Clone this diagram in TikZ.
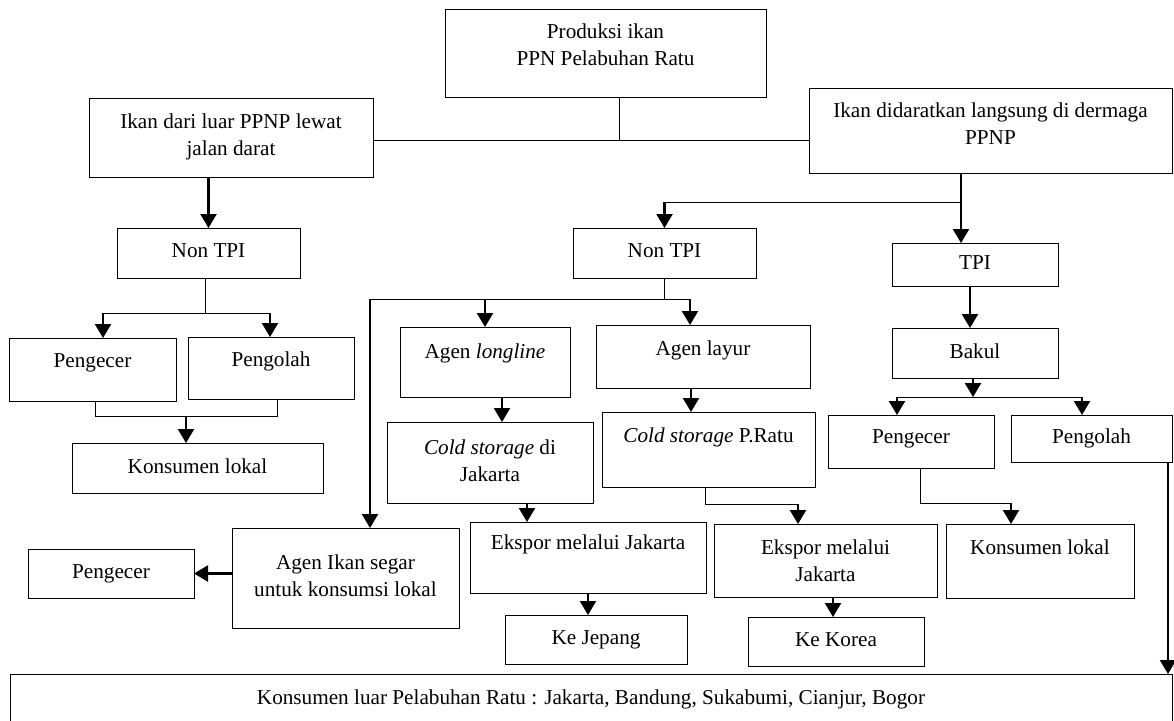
\documentclass[tikz,border=0pt]{standalone}
\usepackage{fontspec}
\setmainfont{Liberation Serif}
\usetikzlibrary{arrows.meta}

\begin{document}
\begin{tikzpicture}[x=0.5pt, y=-0.5pt,
    font=\fontsize{10.6pt}{13.5pt}\selectfont,
    box/.style={draw, line width=0.5pt, inner sep=0pt, outer sep=0pt, align=center},
    single/.style={text height=7.4pt, text depth=#1},
    single/.default=2.3pt,
    arr/.style={-{Triangle[length=7pt,width=8pt]}, line width=1.1pt},
    ln/.style={line width=0.5pt}]
\useasboundingbox (0,0) rectangle (1174,720);

% top row
\node[box, text depth=8.5pt, minimum width=160.5pt, minimum height=44pt] (prod) at (605.5,53) {Produksi ikan\\PPN Pelabuhan Ratu};
\node[box, text depth=3pt, minimum width=142pt, minimum height=39.5pt] (luar) at (231,137.5) {Ikan dari luar PPNP lewat\\jalan darat};
\node[box, text depth=7pt, minimum width=181.5pt, minimum height=42.5pt] (darat) at (990.5,130.5) {Ikan didaratkan langsung di dermaga\\PPNP};

\node[box, single=3.3pt, minimum width=91.5pt, minimum height=25pt] (ntL) at (208.5,253) {Non TPI};
\node[box, single=3.3pt, minimum width=91.5pt, minimum height=25pt] (ntM) at (664.5,253) {Non TPI};
\node[box, single, minimum width=83pt, minimum height=21.5pt] (tpi) at (975,264.5) {TPI};

% left branch
\node[box, single=9.8pt, minimum width=83.5pt, minimum height=31.5pt] (pgL) at (92.5,369.5) {Pengecer};
\node[box, single=9.3pt, minimum width=83pt, minimum height=31pt] (poL) at (271,368) {Pengolah};
\node[box, single, minimum width=125.5pt, minimum height=25pt] (klL) at (197.5,468) {Konsumen lokal};

% middle branch
\node[box, single=11.3pt, minimum width=85pt, minimum height=35pt] (agL) at (485,362) {Agen \textit{longline}};
\node[box, single=8.8pt, minimum width=107pt, minimum height=31.5pt] (agY) at (703,356.5) {Agen layur};
\node[box, text depth=2pt, minimum width=103pt, minimum height=40.5pt] (csJ) at (490,462.5) {\textit{Cold storage} di\\Jakarta};
\node[box, single=14.8pt, minimum width=106.5pt, minimum height=37.5pt] (csP) at (708.5,449.5) {\textit{Cold storage} P.Ratu};
\node[box, text depth=2pt, minimum width=113.5pt, minimum height=50pt] (agS) at (345.5,578) {Agen Ikan segar\\untuk konsumsi lokal};
\node[box, single, minimum width=83pt, minimum height=24.5pt] (pgS) at (111,573.5) {Pengecer};
\node[box, single=15.8pt, minimum width=118pt, minimum height=35.5pt] (exJ) at (588,557.5) {Ekspor melalui Jakarta};
\node[box, minimum width=111.5pt, minimum height=36.5pt] (exP) at (825.5,560.5) {Ekspor melalui\\Jakarta};
\node[box, single, minimum width=91pt, minimum height=24.5pt] (kJ) at (596,639.5) {Ke Jepang};
\node[box, single, minimum width=88pt, minimum height=24.5pt] (kK) at (836,641.5) {Ke Korea};

% right branch
\node[box, single, minimum width=83pt, minimum height=25pt] (bakul) at (975,353) {Bakul};
\node[box, single=5.3pt, minimum width=83pt, minimum height=26.5pt] (pgR) at (911,441.5) {Pengecer};
\node[box, single, minimum width=80.5pt, minimum height=23.5pt] (poR) at (1091.5,438.5) {Pengolah};
\node[box, single=14.3pt, minimum width=94pt, minimum height=37pt] (klR) at (1040,561) {Konsumen lokal};

\node[box, single, minimum width=581pt, minimum height=25pt] (luarK) at (591,699) {Konsumen luar Pelabuhan Ratu : Jakarta, Bandung, Sukabumi, Cianjur, Bogor};

% junction points
\coordinate (hub) at (619,140);
\coordinate (dsplit) at (961,202);
\coordinate (lsplit) at (205,313);
\coordinate (lA) at (103,313);
\coordinate (lB) at (270,313);
\coordinate (lC) at (95,416);
\coordinate (lD) at (277,416);
\coordinate (lE) at (186,416);
\coordinate (mA) at (370,299);
\coordinate (mB) at (690,299);
\coordinate (pA) at (705,504);
\coordinate (pB) at (798,504);
\coordinate (rA) at (897,397);
\coordinate (rB) at (1082,397);
\coordinate (rC) at (920,503);
\coordinate (rD) at (1011,503);

% connectors
\draw[ln] (prod.south -| hub) -- (hub);
\draw[ln] (luar.east |- hub) -- (darat.west |- hub);
\draw[arr] (luar.south -| ntL.north) -- (ntL.north);
\draw[arr] (darat.south -| dsplit) -- (tpi.north -| dsplit);
\draw[ln] (dsplit) -- (dsplit -| ntM.north);
\draw[arr] (dsplit -| ntM.north) -- (ntM.north);

\draw[ln] (ntL.south -| lsplit) -- (lsplit);
\draw[ln] (lA) -- (lB);
\draw[arr] (lA) -- (lA |- pgL.north);
\draw[arr] (lB) -- (lB |- poL.north);
\draw[ln] (pgL.south -| lC) -- (lC) -- (lD) -- (poL.south -| lD);
\draw[arr] (lE) -- (lE |- klL.north);

\draw[ln] (ntM.south) -- (ntM.south |- mA);
\draw[ln] (mA) -- (mB);
\draw[arr] (mA) -- (mA |- agS.north);
\draw[arr] (agL.north |- mA) -- (agL.north);
\draw[arr] (mB) -- (mB |- agY.north);
\draw[arr] ([xshift=8.5pt]agL.south) -- ([xshift=6pt]csJ.north);
\draw[arr] ([xshift=-6pt]agY.south) -- ([xshift=-8.75pt]csP.north);
\draw[arr] ([xshift=18.5pt]csJ.south) -- ([xshift=-30.5pt]exJ.north);
\draw[ln] (csP.south -| pA) -- (pA) -- (pB);
\draw[arr] (pB) -- (pB |- exP.north);
\draw[arr] (agS.west |- pgS) -- (pgS.east);
\draw[arr] (exJ.south) -- (exJ.south |- kJ.north);
\draw[arr] ([xshift=3.75pt]exP.south) -- ([xshift=3.75pt]exP.south |- kK.north);

\draw[arr] ([xshift=-2.5pt]tpi.south) -- ([xshift=-2.5pt]bakul.north);
\draw[arr] ([xshift=-1pt]bakul.south) -- ([xshift=-1pt]bakul.south |- rA);
\draw[ln] (rA) -- (rB);
\draw[arr] (rA) -- (rA |- pgR.north);
\draw[arr] (rB) -- (rB |- poR.north);
\draw[ln] (pgR.south -| rC) -- (rC) -- (rD);
\draw[arr] (rD) -- (rD |- klR.north);
\draw[arr] ([xshift=-2pt]poR.south east) -- ([xshift=-2pt]poR.south east |- luarK.north);
\end{tikzpicture}
\end{document}
